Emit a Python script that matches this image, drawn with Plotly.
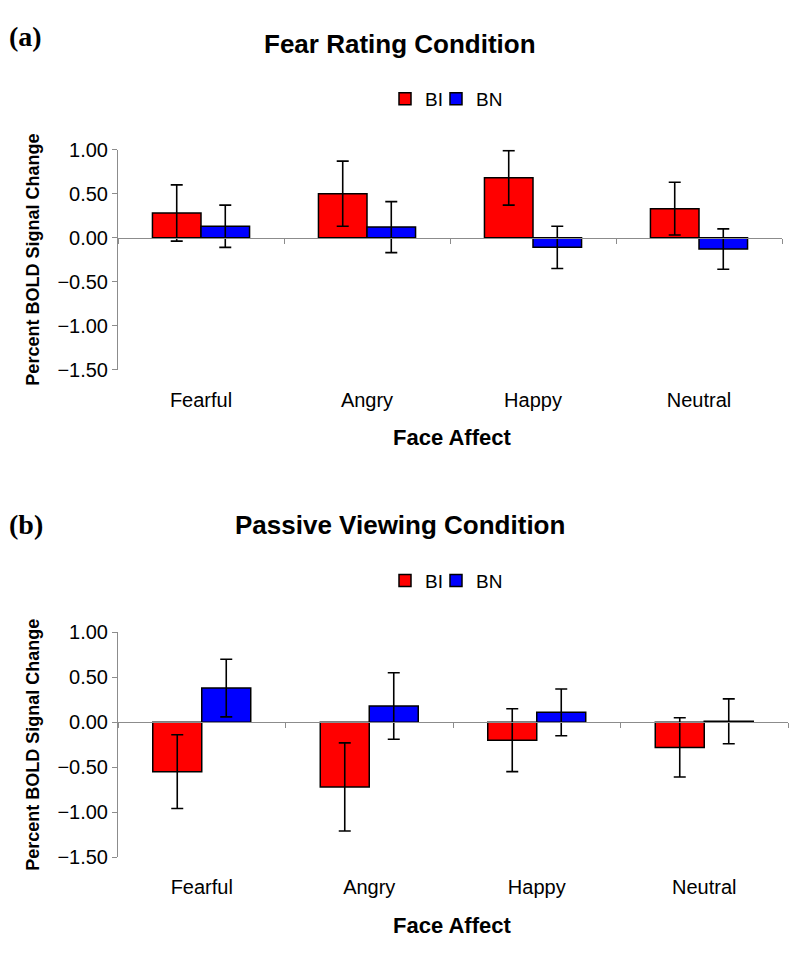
import plotly.graph_objects as go

# ---------------- data ----------------
categories = ["Fearful", "Angry", "Happy", "Neutral"]
series_names = ["BI", "BN"]

fear_bi = [0.28, 0.50, 0.68, 0.33]
fear_bi_err = [0.32, 0.37, 0.31, 0.30]
fear_bn = [0.13, 0.12, -0.11, -0.13]
fear_bn_err = [0.24, 0.29, 0.24, 0.23]

passive_bi = [-0.55, -0.72, -0.20, -0.28]
passive_bi_err = [0.41, 0.49, 0.35, 0.33]
passive_bn = [0.38, 0.18, 0.11, 0.01]
passive_bn_err = [0.32, 0.37, 0.26, 0.25]

y_ticks = [-1.5, -1.0, -0.5, 0.0, 0.5, 1.0]
y_range = [-1.5, 1.0]

panel_labels = ["(a)", "(b)"]
panel_titles = ["Fear Rating Condition", "Passive Viewing Condition"]
y_title = "Percent BOLD Signal Change"
x_title = "Face Affect"

# ---------------- style ----------------
W, H = 800, 955
SANS = "Liberation Sans, Arial, sans-serif"
SERIF = "Liberation Serif, Times New Roman, serif"
RED = "#FF0000"
BLUE = "#0000FF"
AXIS_GREY = "#8c8c8c"


def fy(px):
    return 1 - px / H


def fx(px):
    return px / W


# plot areas in pixels: (left, right, top, bottom)
areas = [(118, 782, 142, 367), (118, 788, 636, 866)]
label_rows = [26, 526]
title_rows = [34, 526]
legend_rows = [90, 583]

fig = go.Figure()

panels = [
    (fear_bi, fear_bi_err, fear_bn, fear_bn_err),
    (passive_bi, passive_bi_err, passive_bn, passive_bn_err),
]

for i, (bi, bi_e, bn, bn_e) in enumerate(panels):
    xa = "x" if i == 0 else "x2"
    ya = "y" if i == 0 else "y2"
    lg = "legend" if i == 0 else "legend2"
    for k, (name, vals, errs, col) in enumerate([(series_names[0], bi, bi_e, RED),
                                                 (series_names[1], bn, bn_e, BLUE)]):
        extra = dict(legendwidth=6) if k == 0 else {}
        fig.add_trace(go.Bar(
            x=categories, y=vals, name=name,
            marker=dict(color=col, line=dict(color="black", width=1.5)),
            error_y=dict(type="data", array=errs, visible=True,
                         color="black", thickness=1.6, width=6),
            xaxis=xa, yaxis=ya, legend=lg, showlegend=True, **extra,
        ))
    # helper (empty) trace for the category axis drawn at zero
    zx = "x3" if i == 0 else "x4"
    fig.add_trace(go.Scatter(x=categories, y=[None] * len(categories),
                             xaxis=zx, yaxis=ya, showlegend=False,
                             hoverinfo="skip", mode="markers"))

layout = dict(
    width=W, height=H,
    margin=dict(l=0, r=0, t=0, b=0),
    paper_bgcolor="white", plot_bgcolor="white",
    barmode="group", bargap=0.415, bargroupgap=0,
    font=dict(family=SANS, color="black", size=20),
)

annotations = []
for i, (l, r, t, b) in enumerate(areas):
    n = "" if i == 0 else "2"
    zn = "3" if i == 0 else "4"
    xdom = [fx(l), fx(r)]
    ydom = [fy(b), fy(t)]
    layout["xaxis" + n] = dict(
        domain=xdom, anchor="y" + n, type="category",
        range=[-0.5, 3.5], showline=False, showgrid=False, zeroline=False,
        ticks="", tickfont=dict(size=20, family=SANS, color="black"),
        ticklabelstandoff=16,
    )
    layout["yaxis" + n] = dict(
        domain=ydom, anchor="x" + n, range=y_range,
        tickvals=y_ticks, tickformat=".2f",
        showline=True, linecolor=AXIS_GREY, linewidth=1,
        ticks="outside", ticklen=5, tickcolor=AXIS_GREY, tickwidth=1,
        showgrid=False, zeroline=False,
        tickfont=dict(size=20, family=SANS, color="black"),
    )
    zero_pos = ydom[0] + (0 - y_range[0]) / (y_range[1] - y_range[0]) * (ydom[1] - ydom[0])
    layout["xaxis" + zn] = dict(
        overlaying="x" + n, anchor="free", position=zero_pos,
        domain=xdom, type="category", range=[-0.5, 3.5],
        tickson="boundaries", ticks="outside", ticklen=5,
        tickcolor=AXIS_GREY, tickwidth=1,
        showline=True, linecolor=AXIS_GREY, linewidth=1,
        showticklabels=False, showgrid=False, zeroline=False,
    )
    annotations.append(dict(
        text="<b>" + panel_labels[i] + "</b>", xref="paper", yref="paper",
        x=fx(7), y=fy(label_rows[i]), xanchor="left", yanchor="middle",
        showarrow=False, font=dict(family=SERIF, size=28, color="black"),
    ))
    annotations.append(dict(
        text="<b>" + panel_titles[i] + "</b>", xref="paper", yref="paper",
        x=fx(400), y=fy(title_rows[i]), xanchor="center", yanchor="middle",
        showarrow=False, font=dict(family=SANS, size=26, color="black"),
    ))
    annotations.append(dict(
        text="<b>" + y_title + "</b>", xref="paper", yref="paper",
        x=fx(33), y=fy((t + b) / 2), xanchor="center", yanchor="middle",
        textangle=-90, showarrow=False,
        font=dict(family=SANS, size=18, color="black"),
    ))
    annotations.append(dict(
        text="<b>" + x_title + "</b>", xref="paper", yref="paper",
        x=fx(452), y=fy(b + 70), xanchor="center", yanchor="middle",
        showarrow=False, font=dict(family=SANS, size=22, color="black"),
    ))
    layout["legend" + n] = dict(
        orientation="h", x=fx(385), y=fy(legend_rows[i]),
        xanchor="left", yanchor="middle",
        font=dict(size=19, family=SANS, color="black"),
        bgcolor="rgba(0,0,0,0)", itemwidth=30, tracegroupgap=0,
    )

layout["annotations"] = annotations
fig.update_layout(**layout)

fig.write_html("out.html", config={"displayModeBar": False},
               post_script="document.body.style.margin='0';document.body.style.padding='0';")
